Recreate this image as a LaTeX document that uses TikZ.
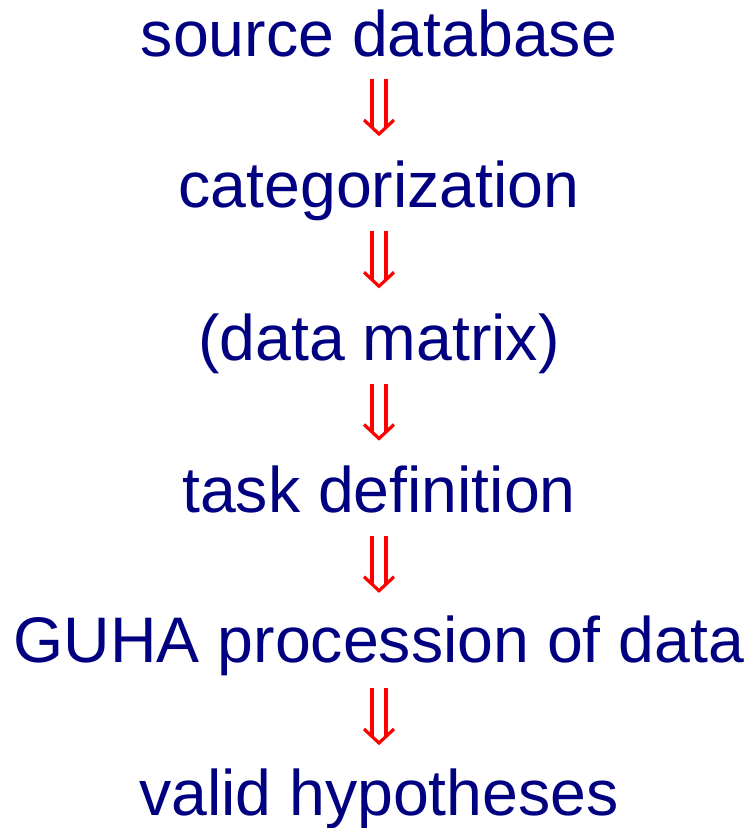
\documentclass[tikz,border=0pt]{standalone}
\usepackage{fontspec}
\setmainfont{Liberation Sans}
\definecolor{navy}{RGB}{0,0,128}
\tikzset{
  lbl/.style={text=navy, anchor=base, inner sep=0pt, font=\fontsize{64.4}{64.4}\selectfont},
  dbl/.style={red, line width=3.2pt}
}
% #1 upper node, #2 lower node, #3 y of arrow top (px from top)
\newcommand\dnarrow[3]{%
  \draw[dbl] ([xshift=-7pt]#1.base |- 0,-#3) -- ([xshift=-7pt]#2.base |- 0,-#3-48);
  \draw[dbl] ([xshift=7pt]#1.base |- 0,-#3) -- ([xshift=7pt]#2.base |- 0,-#3-48);
  \draw[dbl, line join=miter] ([xshift=-15pt]#2.base |- 0,-#3-41) -- (#2.base |- 0,-#3-55) -- ([xshift=15pt]#2.base |- 0,-#3-41);
}
\begin{document}
\begin{tikzpicture}[x=1pt,y=1pt]
\useasboundingbox (0,0) rectangle (749,-828);
\node[lbl] (n1) at (379,-56) {source database};
\node[lbl] (n2) at (379,-207.5) {categorization};
\node[lbl] (n3) at (379,-360) {(data matrix)};
\node[lbl] (n4) at (379,-512) {task definition};
\node[lbl] (n5) at (379,-662) {GUHA procession of data};
\node[lbl] (n6) at (379,-815) {valid hypotheses};
\begin{scope}[xshift=-1pt]
\dnarrow{n1}{n2}{79}
\dnarrow{n2}{n3}{231.25}
\dnarrow{n3}{n4}{383.5}
\dnarrow{n4}{n5}{535.75}
\dnarrow{n5}{n6}{688}
\end{scope}
\end{tikzpicture}
\end{document}
